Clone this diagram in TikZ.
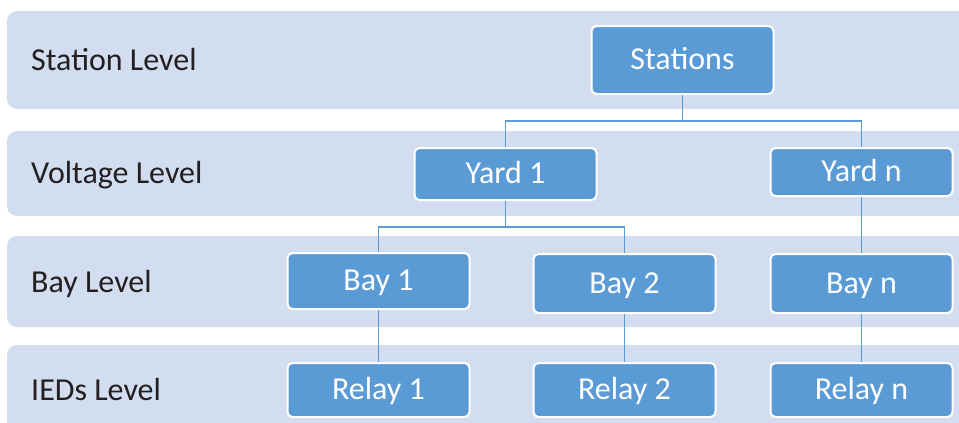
\documentclass[tikz,border=0pt]{standalone}
\usepackage{fontspec}
\setmainfont{Carlito}
\definecolor{bandgray}{HTML}{D2DEEF}
\definecolor{unitblue}{HTML}{5B9BD5}
\definecolor{labelgray}{HTML}{231F20}
\begin{document}
\begin{tikzpicture}[x=1pt,y=-1pt,
  font=\fontsize{32}{38}\selectfont,
  band/.style={fill=bandgray, rounded corners=10pt},
  unit/.style={draw=white, line width=2pt, fill=unitblue, rounded corners=5pt,
    text=white, minimum width=182pt, inner sep=0pt, text height=24pt, text depth=5pt},
  link/.style={draw=unitblue, line width=1.2pt},
  lvl/.style={anchor=base west, text=labelgray, inner sep=0pt}]
\useasboundingbox (0,0) rectangle (959,423);
\clip (0,0) rectangle (959,423);

% Draw level bands
\foreach \top/\bot in {11/109, 131/216, 236/327, 345/440} {
   \fill[band] (7,\top) rectangle (980,\bot);
}

% Level labels
\node[lvl] (station) at (31,70) {Station Level};
\node[lvl] (voltage) at (31,183) {Voltage Level};
\node[lvl] (bay) at (31,292) {Bay Level};
\node[lvl] (ieds) at (31,400) {IEDs Level};

% Units
\node[unit, minimum height=68pt] (stations) at (682.5,60) {Stations};
\node[unit, minimum height=52pt] (yard1) at (505.5,174) {Yard 1};
\node[unit, minimum height=48pt] (yardn) at (861.5,172) {Yard n};
\node[unit, minimum height=56pt] (bay1) at (378.5,281) {Bay 1};
\node[unit, minimum height=59pt] (bay2) at (624.5,283.5) {Bay 2};
\node[unit, minimum height=59pt] (bayn) at (861.5,283.5) {Bay n};
\node[unit, minimum height=54pt] (relay1) at (378.5,390) {Relay 1};
\node[unit, minimum height=54pt] (relay2) at (624.5,390) {Relay 2};
\node[unit, minimum height=54pt] (relayn) at (861.5,390) {Relay n};

% Bus coordinates
\coordinate (stbus) at (stations.south |- 0,121);
\coordinate (ydbus) at (yard1.south |- 0,227);

% Connectors
\draw[link] (stations.south) -- (stbus);
\draw[link] (yard1.north) |- (stbus) -| (yardn.north);
\draw[link] (yard1.south) -- (ydbus);
\draw[link] (bay1.north) |- (ydbus) -| (bay2.north);
\draw[link] (yardn.south) -- (bayn.north);
\draw[link] (bay1.south) -- (relay1.north);
\draw[link] (bay2.south) -- (relay2.north);
\draw[link] (bayn.south) -- (relayn.north);
\end{tikzpicture}
\end{document}
